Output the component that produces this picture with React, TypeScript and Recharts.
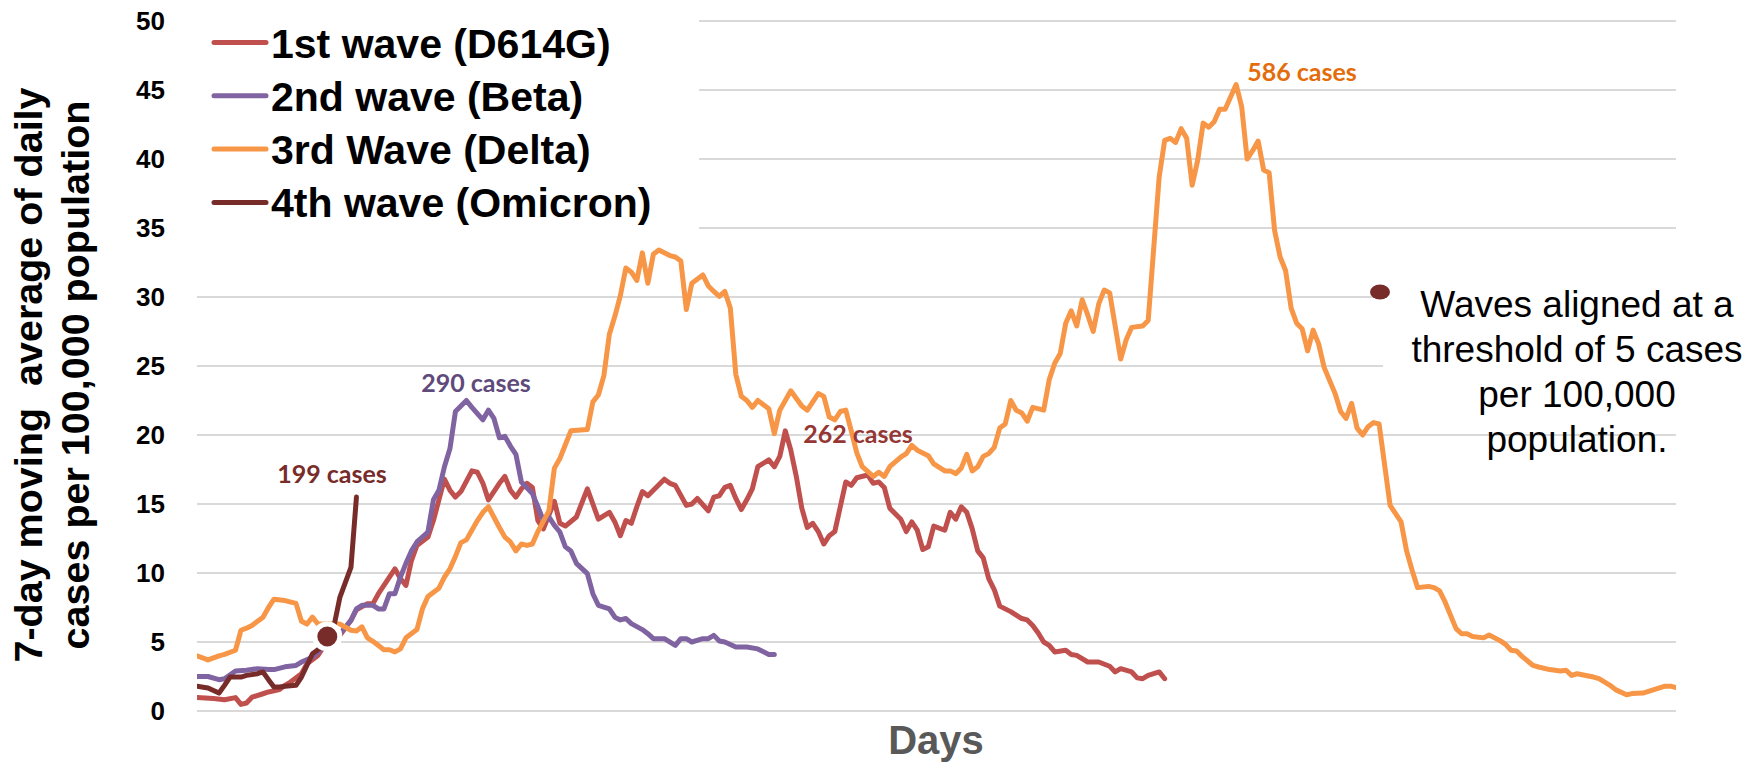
import React from 'react';
import { LineChart, Line, XAxis, YAxis, CartesianGrid } from 'recharts';

// ---------- data (day index, 7-day avg cases per 100,000) ----------
const firstWave: [number, number][] = [
  [0,0.97],[3,0.9],[5,0.82],[7,0.97],[8,0.48],[9,0.58],[10,1.0],[12,1.25],[13,1.38],[15,1.55],[16,1.86],[17,2.1],[19,2.7],[20,3.43],[22,4.03],[23,4.64],[26,5.48],[28,6.57],[29,7.34],[31,7.78],[32,7.78],[33,8.5],[35,9.7],[36,10.3],[37,9.6],[38,9.1],[39,10.9],[40,12.0],[42,12.6],[43,13.8],[44,15.3],[45,16.8],[46,16.0],[47,15.5],[48,15.9],[50,17.4],[51,17.3],[52,16.5],[53,15.3],[55,16.5],[56,17.0],[57,16.0],[58,15.5],[59,16.1],[60,16.5],[61,16.2],[62,13.8],[63,13.2],[64,14.2],[65,15.2],[66,13.6],[67,13.4],[69,14.06],[71,16.1],[72,15.0],[73,13.9],[75,14.4],[76,13.7],[77,12.7],[78,13.8],[79,13.6],[80,14.8],[81,15.9],[82,15.6],[83,16.0],[85,16.8],[86,16.5],[87,16.35],[89,14.9],[90,15.0],[91,15.4],[93,14.5],[94,15.5],[95,15.6],[96,16.2],[97,16.35],[98,15.4],[99,14.6],[100,15.3],[101,16.1],[102,17.7],[104,18.2],[105,17.7],[106,18.45],[107,20.3],[108,18.9],[109,17.0],[110,14.7],[111,13.3],[112,13.6],[113,13.0],[114,12.1],[115,12.7],[116,13.0],[117,14.8],[118,16.6],[119,16.35],[120,16.9],[122,17.1],[123,16.5],[124,16.6],[125,16.2],[126,14.7],[127,14.3],[128,13.9],[129,13.0],[130,13.7],[131,13.1],[132,11.7],[133,11.9],[134,13.4],[136,13.1],[137,14.4],[138,13.9],[139,14.8],[140,14.4],[141,13.2],[142,11.6],[143,11.1],[144,9.6],[145,8.8],[146,7.6],[148,7.2],[150,6.7],[151,6.6],[152,6.2],[153,5.65],[154,5.0],[155,4.76],[156,4.28],[158,4.4],[159,4.1],[160,4.03],[162,3.55],[164,3.55],[166,3.24],[167,2.83],[168,3.07],[170,2.83],[171,2.4],[172,2.34],[173,2.58],[175,2.83],[176,2.34],
];

const secondWave: [number, number][] = [
  [0,2.5],[2,2.5],[4,2.27],[5,2.34],[7,2.9],[9,2.95],[11,3.07],[13,3.0],[14,3.0],[16,3.2],[18,3.3],[19,3.55],[21,3.9],[22,4.28],[23,4.64],[26,5.6],[28,6.57],[29,7.4],[30,7.66],[32,7.66],[33,7.4],[34,7.4],[35,8.5],[36,8.5],[37,9.7],[38,10.7],[39,11.6],[40,12.25],[42,12.97],[43,15.3],[44,16.0],[45,17.7],[46,19.0],[47,21.7],[49,22.5],[50,22.0],[52,21.1],[53,21.8],[54,21.2],[55,19.8],[56,19.9],[57,19.2],[58,18.6],[59,16.6],[61,15.75],[62,14.8],[63,13.8],[64,14.06],[65,13.45],[66,12.97],[67,11.9],[68,11.6],[69,10.7],[71,9.95],[72,8.5],[73,7.66],[75,7.4],[76,6.8],[77,6.6],[78,6.7],[79,6.33],[81,5.9],[82,5.6],[83,5.24],[85,5.24],[87,4.76],[88,5.24],[89,5.24],[90,5.0],[92,5.24],[93,5.24],[94,5.48],[95,5.07],[96,5.0],[98,4.64],[100,4.64],[102,4.5],[104,4.1],[105,4.1],
];

const thirdWave: [number, number][] = [
  [0,4.0],[2,3.7],[4,4.0],[5,4.1],[7,4.4],[8,5.85],[9,6.0],[10,6.2],[12,6.8],[13,7.5],[14,8.1],[16,8.0],[18,7.8],[19,6.5],[20,6.3],[21,6.8],[22,6.3],[26,6.3],[28,5.85],[29,5.8],[30,6.1],[31,5.3],[32,5.05],[34,4.44],[35,4.44],[36,4.28],[37,4.5],[38,5.3],[40,5.9],[41,7.4],[42,8.3],[44,8.9],[45,9.7],[46,10.3],[47,11.2],[48,12.2],[49,12.4],[51,13.8],[52,14.4],[53,14.8],[55,13.3],[56,12.6],[57,12.25],[58,11.6],[59,12.1],[60,12.0],[61,12.1],[62,13.0],[64,14.5],[65,17.6],[66,18.3],[68,20.3],[71,20.4],[72,22.4],[73,22.9],[74,24.3],[75,27.3],[76,28.6],[77,30.1],[78,32.1],[79,31.8],[80,31.2],[81,33.2],[82,31.0],[83,33.1],[84,33.4],[86,33.0],[87,32.9],[88,32.6],[89,29.1],[90,31.0],[92,31.6],[93,30.8],[94,30.4],[95,30.05],[96,30.4],[97,29.2],[98,24.4],[99,22.8],[100,22.5],[101,22.0],[102,22.5],[104,21.9],[105,20.1],[106,21.8],[108,23.2],[110,22.1],[111,21.8],[113,23.0],[114,22.8],[115,21.3],[116,21.1],[117,21.7],[118,21.8],[119,20.3],[120,18.7],[121,17.7],[123,17.0],[124,17.3],[125,17.0],[126,17.7],[128,18.4],[129,18.65],[130,19.25],[131,18.9],[133,18.5],[134,17.9],[136,17.4],[137,17.4],[138,17.2],[139,17.6],[140,18.6],[141,17.4],[142,17.7],[143,18.45],[144,18.65],[145,19.1],[146,20.5],[147,20.8],[148,22.5],[149,21.8],[150,21.6],[151,21.0],[152,22.0],[154,21.8],[155,24.0],[156,25.2],[157,25.9],[158,28.1],[159,29.0],[160,27.9],[161,29.8],[162,28.7],[163,27.5],[164,29.5],[165,30.5],[166,30.3],[168,25.5],[169,26.9],[170,27.8],[172,27.9],[173,28.3],[175,38.7],[176,41.35],[177,41.5],[178,41.2],[179,42.2],[180,41.5],[181,38.1],[182,39.9],[183,42.6],[184,42.3],[185,42.7],[186,43.6],[187,43.6],[189,45.4],[190,43.8],[191,40.0],[192,40.6],[193,41.3],[194,39.2],[195,39.0],[196,34.8],[197,32.9],[198,31.9],[199,29.2],[200,28.1],[201,27.7],[202,26.1],[203,27.6],[204,26.6],[205,24.9],[207,23.0],[208,21.7],[209,21.2],[210,22.3],[211,20.5],[212,20.0],[213,20.6],[214,20.9],[215,20.8],[217,14.9],[218,14.3],[219,13.7],[220,11.6],[221,10.2],[222,8.94],[224,9.03],[225,8.94],[226,8.7],[227,7.9],[228,6.93],[229,5.97],[230,5.6],[231,5.6],[232,5.4],[234,5.3],[235,5.5],[237,5.1],[238,4.83],[239,4.4],[240,4.35],[241,3.96],[243,3.3],[244,3.19],[246,3.0],[248,2.9],[249,2.95],[250,2.58],[251,2.7],[254,2.46],[255,2.34],[257,1.86],[258,1.55],[260,1.18],[261,1.26],[263,1.3],[265,1.55],[267,1.8],[268,1.8],[269,1.7],
];

const fourthWave: [number, number][] = [
  [0,1.79],[2,1.67],[4,1.3],[5,1.86],[6,2.46],[8,2.46],[9,2.58],[11,2.7],[12,2.83],[13,2.27],[14,1.74],[15,1.74],[16,1.79],[18,1.86],[19,2.46],[21,4.15],[22,4.44],[23,4.76],[25,6.33],[26,8.26],[28,10.4],[29,15.5],
];

const seriesNames = ['1st wave (D614G)', '2nd wave (Beta)', '3rd Wave (Delta)', '4th wave (Omicron)'];
const seriesColors = ['#C0504D', '#8064A2', '#F79646', '#772C2A'];
const seriesPoints = [firstWave, secondWave, thirdWave, fourthWave];

const yTicks = [0, 5, 10, 15, 20, 25, 30, 35, 40, 45, 50];
const dayDomain: [number, number] = [0, 269];

// alignment point (threshold crossing)
const alignPoint: [number, number][] = [[23.7, 5.4]];

const peakLabels = [
  { text: '290 cases', color: '#604A7B', x: 476, y: 392 },
  { text: '199 cases', color: '#772C2A', x: 332, y: 483 },
  { text: '262 cases', color: '#953735', x: 858, y: 443 },
  { text: '586 cases', color: '#E46C0A', x: 1302, y: 81 },
];

const annotationLines = ['Waves aligned at a', 'threshold of 5 cases', 'per 100,000', 'population.'];
const yTitleLines = ['7-day moving  average of daily', 'cases per 100,000 population'];
const xTitle = 'Days';

const W = 1749;
const H = 764;
const FONT = '"Liberation Sans", Arial, Helvetica, sans-serif';
const LABEL_FONT = 'Lato, "Open Sans", sans-serif';

const toRows = (pts: [number, number][]) => pts.map(([day, cases]) => ({ day, cases }));

const AlignDot = (props: any) => {
  const { cx, cy } = props;
  if (cx == null || cy == null) return null;
  return <circle cx={cx} cy={cy} r={12.5} fill="#772C2A" stroke="#fff" strokeWidth={5} />;
};

export default function App() {
  return (
    <div style={{ position: 'fixed', left: 0, top: 0, width: W, height: H, background: '#fff' }}>
      <LineChart width={W} height={H} margin={{ top: 21, right: 73, bottom: 53, left: 0 }}>
        <CartesianGrid vertical={false} stroke="#D9D9D9" strokeWidth={2} />
        <XAxis type="number" dataKey="day" domain={dayDomain} hide allowDataOverflow />
        <YAxis
          type="number"
          domain={[0, 50]}
          ticks={yTicks}
          interval={0}
          width={197}
          axisLine={false}
          tickLine={false}
          tickMargin={26}
          tick={{ fill: '#000', fontSize: 26, fontWeight: 700, fontFamily: FONT }}
        />
        {seriesPoints.map((pts, i) => (
          <Line
            key={seriesNames[i]}
            data={toRows(pts)}
            dataKey="cases"
            name={seriesNames[i]}
            type="linear"
            stroke={seriesColors[i]}
            strokeWidth={5}
            strokeLinejoin="round"
            strokeLinecap="round"
            dot={false}
            activeDot={false}
            isAnimationActive={false}
          />
        ))}
        <Line
          data={toRows(alignPoint)}
          dataKey="cases"
          name="alignment"
          stroke="none"
          dot={<AlignDot />}
          activeDot={false}
          legendType="none"
          isAnimationActive={false}
        />
      </LineChart>
      <svg width={W} height={H} style={{ position: 'absolute', left: 0, top: 0, pointerEvents: 'none' }}>
        {/* legend background */}
        <rect x={190} y={8} width={509} height={230} fill="#fff" />
        {seriesNames.map((name, i) => {
          const y = 42.5 + i * 53.3;
          return (
            <g key={name}>
              <line x1={214} x2={266} y1={y} y2={y} stroke={seriesColors[i]} strokeWidth={5} strokeLinecap="round" />
              <text x={271} y={y + 15} fontFamily={FONT} fontWeight={700} fontSize={41} fill="#000">{name}</text>
            </g>
          );
        })}
        {/* y title */}
        {yTitleLines.map((t, i) => (
          <text
            key={t}
            x={-375}
            y={42 + i * 47}
            transform="rotate(-90)"
            textAnchor="middle"
            fontFamily={FONT}
            fontWeight={700}
            fontSize={39.5}
            fill="#000"
            style={{ whiteSpace: 'pre' }}
          >
            {t}
          </text>
        ))}
        {/* x title */}
        <text x={936} y={754} textAnchor="middle" fontFamily={FONT} fontWeight={700} fontSize={40} fill="#595959">{xTitle}</text>
        {/* peak labels */}
        {peakLabels.map((p) => (
          <text key={p.text} x={p.x} y={p.y} textAnchor="middle" fontFamily={LABEL_FONT} fontWeight={700} fontSize={25} fill={p.color}>{p.text}</text>
        ))}
        {/* annotation */}
        <rect x={1383} y={240} width={366} height={165} fill="#fff" />
        <ellipse cx={1380} cy={292} rx={10} ry={7.5} fill="#772C2A" />
        {annotationLines.map((t, i) => (
          <text key={t} x={1577} y={317 + i * 45} textAnchor="middle" fontFamily={FONT} fontSize={37} fill="#000">{t}</text>
        ))}
      </svg>
    </div>
  );
}
